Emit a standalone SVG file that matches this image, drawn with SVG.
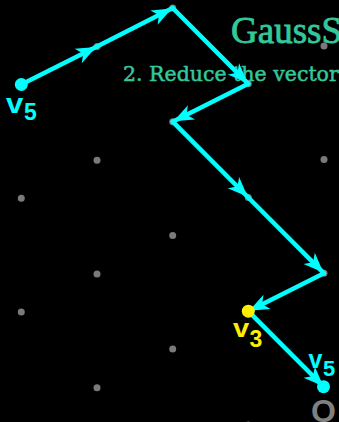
<svg xmlns="http://www.w3.org/2000/svg" width="339" height="422" viewBox="0 0 339 422">
<style>
.title{font-family:"Liberation Serif","DejaVu Serif",serif;fill:#33c89c;stroke:#33c89c}
.lp{fill:#7a7a7a}
.seg{stroke:#00ffff;stroke-width:4.5;stroke-linecap:round;fill:none;marker-end:url(#ah)}
.lbl{font-family:"Liberation Sans",Arial,sans-serif;font-weight:bold}
.cy{fill:#00ffff}
.ye{fill:#ffee00}
</style>
<defs>
<marker id="ah" markerUnits="userSpaceOnUse" markerWidth="24" markerHeight="18" refX="22" refY="9" orient="auto" overflow="visible">
<path d="M21,9 L1,1 L6.5,9 L1,17 Z" fill="#00ffff"/>
</marker>
</defs>
<rect width="339" height="422" fill="#000"/>
<g id="title">
<text class="title" x="231" y="43" font-size="37" stroke-width="0.8">GaussS</text>
<text class="title" x="123" y="80.5" font-size="20.5" stroke-width="0.5" style="font-family:'DejaVu Serif','Liberation Serif',serif">2. Reduce the vector</text>
</g>
<g id="lattice">
<circle class="lp" cx="324" cy="273.3" r="3.5"/>
<circle class="lp" cx="324" cy="159.6" r="3.5"/>
<circle class="lp" cx="324" cy="45.9" r="3.5"/>
<circle class="lp" cx="248.3" cy="425" r="3.5"/>
<circle class="lp" cx="248.3" cy="197.5" r="3.5"/>
<circle class="lp" cx="248.3" cy="83.8" r="3.5"/>
<circle class="lp" cx="172.7" cy="349.1" r="3.5"/>
<circle class="lp" cx="172.7" cy="235.4" r="3.5"/>
<circle class="lp" cx="172.7" cy="121.7" r="3.5"/>
<circle class="lp" cx="172.7" cy="8" r="3.5"/>
<circle class="lp" cx="97" cy="387.7" r="3.5"/>
<circle class="lp" cx="97" cy="274" r="3.5"/>
<circle class="lp" cx="97" cy="160.3" r="3.5"/>
<circle class="lp" cx="97" cy="46.6" r="3.5"/>
<circle class="lp" cx="21.3" cy="425.6" r="3.5"/>
<circle class="lp" cx="21.3" cy="311.9" r="3.5"/>
<circle class="lp" cx="21.3" cy="198.2" r="3.5"/>
</g>
<g id="connectors">
<line class="seg" x1="21.3" y1="84.5" x2="97" y2="46.6"/>
<line class="seg" x1="97" y1="46.6" x2="172.7" y2="8"/>
<line class="seg" x1="172.7" y1="8" x2="248.3" y2="83.8"/>
<line class="seg" x1="248.3" y1="83.8" x2="172.7" y2="121.7"/>
<line class="seg" x1="172.7" y1="121.7" x2="248.3" y2="197.5"/>
<line class="seg" x1="248.3" y1="197.5" x2="324" y2="273.3"/>
<line class="seg" x1="324" y1="273.3" x2="248.3" y2="311.2"/>
<line class="seg" x1="248.3" y1="311.2" x2="324" y2="387"/>
</g>
<g id="v5start">
<circle class="cy" cx="21.3" cy="84.5" r="6.5"/>
<text class="lbl cy" x="6" y="113" font-size="27" transform="translate(6 113) scale(1.15 1) translate(-6 -113)">v</text>
<text class="lbl cy" x="24" y="120" font-size="23">5</text>
</g>
<g id="v3">
<circle class="ye" cx="248.3" cy="311.2" r="6.5"/>
<text class="lbl ye" x="233" y="337.5" font-size="26" transform="translate(233 337.5) scale(1.12 1) translate(-233 -337.5)">v</text>
<text class="lbl ye" x="249.5" y="347" font-size="23">3</text>
</g>
<g id="v5end">
<circle class="cy" cx="323.5" cy="386.7" r="6.5"/>
<text class="lbl cy" x="308.5" y="368" font-size="25">v</text>
<text class="lbl cy" x="323" y="376" font-size="22">5</text>
</g>
<g id="origin">
<text x="311" y="422" font-size="32" font-weight="bold" fill="#808080" style="font-family:'Liberation Sans',Arial,sans-serif">O</text>
</g>
</svg>
